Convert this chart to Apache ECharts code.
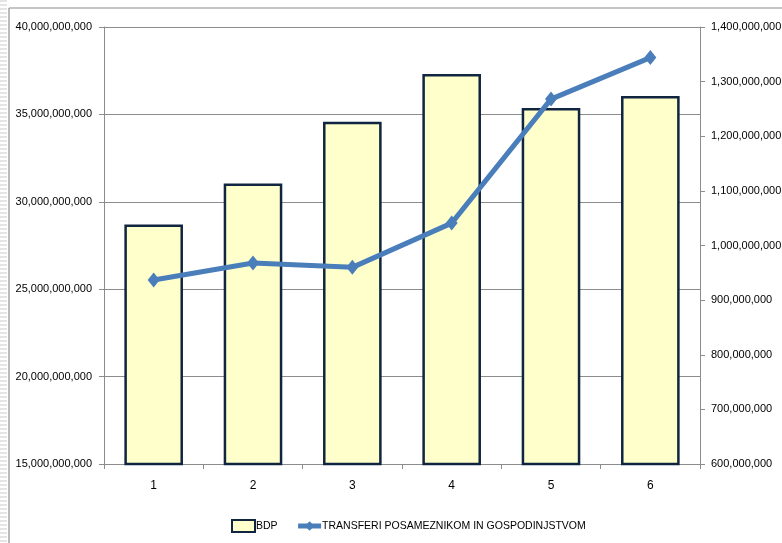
<!DOCTYPE html>
<html>
<head>
<meta charset="utf-8">
<script src="https://cdn.jsdelivr.net/npm/echarts@6/dist/echarts.min.js"></script>
<style>
html,body{margin:0;padding:0;background:#fff;}
#c{width:782px;height:543px;}
</style>
</head>
<body>
<div id="c"></div>
<script>
var categories = ['1', '2', '3', '4', '5', '6'];
var bdp = [28700000000, 31050000000, 34580000000, 37310000000, 35370000000, 36050000000];
var transferi = [937000000, 968000000, 960000000, 1041000000, 1268000000, 1344000000];
var leftTicks = {min: 15000000000, max: 40000000000, interval: 5000000000};
var rightTicks = {min: 600000000, max: 1400000000, interval: 100000000};
var seriesNames = ['BDP', 'TRANSFERI POSAMEZNIKOM IN GOSPODINJSTVOM'];

var FONT = '"Liberation Sans Narrow", "Arial Narrow", "Liberation Sans", sans-serif';
function fmt(v){ return Number(v).toLocaleString('en-US'); }

var stripes = [];
for (var i = 0; i < 136; i++) {
  stripes.push({type: 'line', silent: true, shape: {x1: 0, y1: i * 4 + 1, x2: 7, y2: i * 4 + 1}, style: {stroke: '#dcdcdc', lineWidth: 1.5}});
}

var chart = echarts.init(document.getElementById('c'), null, {renderer: 'canvas'});
chart.setOption({
  backgroundColor: '#ffffff',
  animation: false,
  graphic: stripes.concat([
    {type: 'line', shape: {x1: 9, y1: 8, x2: 782, y2: 8}, style: {stroke: '#8c8c8c', lineWidth: 1.2}},
    {type: 'line', shape: {x1: 9, y1: 8, x2: 9, y2: 543}, style: {stroke: '#8c8c8c', lineWidth: 1.2}}
  ]),
  grid: {left: 104, right: 82, top: 27, bottom: 79, containLabel: false, outerBoundsMode: 'none'},
  legend: {
    left: 226, top: 514,
    itemWidth: 23, itemHeight: 12, itemGap: 18,
    textStyle: {fontFamily: FONT, fontSize: 10.5, color: '#000', padding: [0, 0, 0, -4]},
    data: [
      {name: seriesNames[0], icon: 'rect'},
      {name: seriesNames[1], lineStyle: {width: 5, color: '#4a7ebb'}}
    ]
  },
  xAxis: {
    type: 'category',
    data: categories,
    axisLine: {show: true, lineStyle: {color: '#8c8c8c', width: 1}},
    axisTick: {show: true, length: 5, lineStyle: {color: '#8c8c8c'}},
    axisLabel: {fontFamily: FONT, fontSize: 12, color: '#000', margin: 16},
    splitLine: {show: false}
  },
  yAxis: [
    {
      type: 'value', position: 'left',
      min: leftTicks.min, max: leftTicks.max, interval: leftTicks.interval,
      axisLine: {show: true, lineStyle: {color: '#8c8c8c', width: 1}},
      axisTick: {show: true, length: 5, lineStyle: {color: '#8c8c8c'}},
      axisLabel: {fontFamily: FONT, fontSize: 11, color: '#000', margin: 12, formatter: fmt},
      splitLine: {show: true, lineStyle: {color: '#8c8c8c', width: 1}}
    },
    {
      type: 'value', position: 'right',
      min: rightTicks.min, max: rightTicks.max, interval: rightTicks.interval,
      axisLine: {show: true, lineStyle: {color: '#8c8c8c', width: 1}},
      axisTick: {show: true, length: 5, lineStyle: {color: '#8c8c8c'}},
      axisLabel: {fontFamily: FONT, fontSize: 11, color: '#000', margin: 11, formatter: fmt},
      splitLine: {show: false}
    }
  ],
  series: [
    {
      name: seriesNames[0], type: 'bar', yAxisIndex: 0,
      data: bdp, barWidth: '59%',
      itemStyle: {color: '#ffffcc', borderColor: '#10253f', borderWidth: 2.5}
    },
    {
      name: seriesNames[1], type: 'line', yAxisIndex: 1,
      data: transferi,
      symbol: 'diamond', symbolSize: [12, 15],
      lineStyle: {color: '#4a7ebb', width: 5},
      itemStyle: {color: '#4a7ebb'},
      z: 5
    }
  ]
});
</script>
</body>
</html>
